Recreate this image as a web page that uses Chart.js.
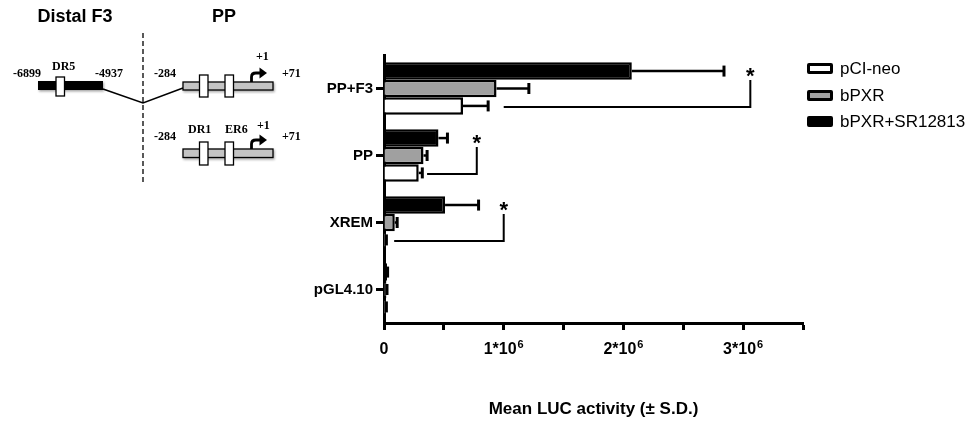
<!DOCTYPE html>
<html>
<head>
<meta charset="utf-8">
<script src="https://cdn.jsdelivr.net/npm/chart.js@4/dist/chart.umd.min.js"></script>
<style>
html,body{margin:0;padding:0;background:#fff;}
#wrap{position:relative;width:979px;height:421px;overflow:hidden;}
#c{position:absolute;left:0;top:0;}
#diagram{position:absolute;left:0;top:0;}
#legend{position:absolute;left:807px;top:0;font-family:"Liberation Sans",Arial,sans-serif;font-size:17px;color:#000;}
.row{position:absolute;left:0;white-space:nowrap;height:20px;line-height:20px;}
.box{position:absolute;left:0;top:4px;width:26px;height:11px;box-sizing:border-box;border:3px solid #000;border-radius:2px;}
.lbl{position:absolute;left:33px;top:0;}
</style>
</head>
<body>
<div id="wrap">
<canvas id="c" width="979" height="421"></canvas>
<svg id="diagram" width="310" height="190" xmlns="http://www.w3.org/2000/svg">
  <defs>
    <filter id="sh" x="-10%" y="-30%" width="130%" height="180%">
      <feDropShadow dx="1" dy="1.5" stdDeviation="1" flood-color="#000" flood-opacity="0.35"/>
    </filter>
  </defs>
  <g font-family="Liberation Sans, Arial, sans-serif" font-weight="bold" font-size="18" fill="#000" text-anchor="middle">
    <text x="75" y="22">Distal F3</text>
    <text x="224" y="22">PP</text>
  </g>
  <line x1="143" y1="33" x2="143" y2="182" stroke="#000" stroke-width="1.3" stroke-dasharray="5,3"/>
  <!-- top construct -->
  <polyline points="103,89 143,103 183,88" fill="none" stroke="#000" stroke-width="1.6"/>
  <rect x="38" y="81" width="65" height="9" fill="#000" filter="url(#sh)"/>
  <rect x="56" y="77" width="8.5" height="19" fill="#fff" stroke="#000" stroke-width="1.3"/>
  <rect x="183" y="82" width="90" height="8" fill="#c4c4c4" stroke="#000" stroke-width="1.3" filter="url(#sh)"/>
  <rect x="199.5" y="75" width="8.5" height="22" fill="#fff" stroke="#000" stroke-width="1.3"/>
  <rect x="225" y="75" width="8.5" height="22" fill="#fff" stroke="#000" stroke-width="1.3"/>
  <path d="M251.5,82 L251.5,77 Q251.5,73 256,73 L261,73" fill="none" stroke="#000" stroke-width="2.8"/>
  <polygon points="259.5,67.5 267,73 259.5,78.5" fill="#000"/>
  <!-- bottom construct -->
  <rect x="183" y="149" width="90" height="8.5" fill="#c4c4c4" stroke="#000" stroke-width="1.3" filter="url(#sh)"/>
  <rect x="199.5" y="142" width="8.5" height="23" fill="#fff" stroke="#000" stroke-width="1.3"/>
  <rect x="225" y="142" width="8.5" height="23" fill="#fff" stroke="#000" stroke-width="1.3"/>
  <path d="M251.5,149 L251.5,144 Q251.5,140 256,140 L261,140" fill="none" stroke="#000" stroke-width="2.8"/>
  <polygon points="259.5,134.5 267,140 259.5,145.5" fill="#000"/>
  <g font-family="Liberation Serif, Times New Roman, serif" font-weight="bold" font-size="12" fill="#000">
    <text x="13" y="77">-6899</text>
    <text x="52" y="70">DR5</text>
    <text x="95" y="77">-4937</text>
    <text x="154" y="77">-284</text>
    <text x="256" y="60">+1</text>
    <text x="282" y="77">+71</text>
    <text x="154" y="140">-284</text>
    <text x="188" y="133">DR1</text>
    <text x="225" y="133">ER6</text>
    <text x="257" y="129">+1</text>
    <text x="282" y="140">+71</text>
  </g>
</svg>
<div id="legend"></div>
</div>
<script>
// ---- data ----
const categories = ['PP+F3', 'PP', 'XREM', 'pGL4.10'];
const seriesNames = ['pCI-neo', 'bPXR', 'bPXR+SR12813'];
const pCIneo     = [660000, 290000, 15000, 15000];
const pCIneoSD   = [210000, 30000, 5000, 5000];
const bPXR       = [940000, 330000, 90000, 20000];
const bPXRSD     = [270000, 30000, 20000, 5000];
const bPXRSR     = [2070000, 455000, 510000, 25000];
const bPXRSRSD   = [770000, 75000, 280000, 5000];
const xTickValues = [0, 1000000, 2000000, 3000000];
const xTickLabels = ['0', '1*10', '2*10', '3*10'];
const xTickExps   = ['', '6', '6', '6'];
const sigCategory = ['PP+F3', 'PP', 'XREM'];
const sigFrom     = [1000000, 360000, 85000];
const sigTo       = [3060000, 775000, 1000000];
const xAxisTitle = 'Mean LUC activity (\u00b1 S.D.)';

const FONT = '"Liberation Sans", Arial, sans-serif';
const colors = {'pCI-neo': '#ffffff', 'bPXR': '#a0a0a0', 'bPXR+SR12813': '#000000'};
const valuesBy = {'pCI-neo': pCIneo, 'bPXR': bPXR, 'bPXR+SR12813': bPXRSR};
const sdBy = {'pCI-neo': pCIneoSD, 'bPXR': bPXRSD, 'bPXR+SR12813': bPXRSRSD};

// bars stacked top-to-bottom: SR12813, bPXR, pCI-neo
const drawOrder = seriesNames.slice().reverse();
const datasets = drawOrder.map(n => ({
  label: n,
  data: valuesBy[n],
  backgroundColor: colors[n],
  borderColor: '#000',
  borderWidth: 2.5,
  borderSkipped: 'start'
}));

// legend (HTML, in original order)
const legendEl = document.getElementById('legend');
const legendY = [59, 86, 112];
seriesNames.forEach((n, i) => {
  const r = document.createElement('div');
  r.className = 'row';
  r.style.top = legendY[i] + 'px';
  const b = document.createElement('span');
  b.className = 'box';
  b.style.background = colors[n];
  const t = document.createElement('span');
  t.className = 'lbl';
  t.textContent = n;
  r.appendChild(b); r.appendChild(t);
  legendEl.appendChild(r);
});

const errorBars = {
  id: 'errorBars',
  afterDatasetsDraw(chart) {
    const ctx = chart.ctx, xs = chart.scales.x;
    ctx.save();
    ctx.strokeStyle = '#000';
    chart.data.datasets.forEach((ds, i) => {
      const meta = chart.getDatasetMeta(i);
      const sd = sdBy[ds.label];
      meta.data.forEach((bar, j) => {
        const v = ds.data[j];
        const x0 = xs.getPixelForValue(v);
        const x1 = xs.getPixelForValue(v + sd[j]);
        const y = bar.y;
        ctx.lineWidth = 2.5;
        ctx.beginPath();
        ctx.moveTo(x0, y); ctx.lineTo(x1, y);
        ctx.stroke();
        ctx.lineWidth = 3;
        ctx.beginPath();
        ctx.moveTo(x1, y - 5.5); ctx.lineTo(x1, y + 5.5);
        ctx.stroke();
      });
    });
    ctx.restore();
  }
};

const sigMarks = {
  id: 'sigMarks',
  afterDatasetsDraw(chart) {
    const ctx = chart.ctx, xs = chart.scales.x;
    const topMeta = chart.getDatasetMeta(0);
    const botMeta = chart.getDatasetMeta(2);
    ctx.save();
    ctx.strokeStyle = '#000';
    ctx.fillStyle = '#000';
    ctx.lineWidth = 2;
    sigCategory.forEach((cat, k) => {
      const c = categories.indexOf(cat);
      const yw = botMeta.data[c].y + 1;
      const yb = topMeta.data[c].y;
      const xa = xs.getPixelForValue(sigFrom[k]);
      const xb = xs.getPixelForValue(sigTo[k]);
      ctx.beginPath();
      ctx.moveTo(xa, yw); ctx.lineTo(xb, yw); ctx.lineTo(xb, yb + 9);
      ctx.stroke();
      ctx.font = 'bold 22px ' + FONT;
      ctx.textAlign = 'center';
      ctx.textBaseline = 'alphabetic';
      ctx.fillText('*', xb, yb + 12);
    });
    ctx.restore();
  }
};

// x tick labels with superscript exponent, placed through the x scale
const xLabels = {
  id: 'xLabels',
  afterDraw(chart) {
    const ctx = chart.ctx, xs = chart.scales.x;
    const baseFont = 'bold 16px ' + FONT;
    const supFont = 'bold 11px ' + FONT;
    const yBase = xs.top + 31;
    ctx.save();
    ctx.fillStyle = '#000';
    ctx.textBaseline = 'alphabetic';
    ctx.textAlign = 'left';
    xTickValues.forEach((v, i) => {
      const px = xs.getPixelForValue(v);
      ctx.font = baseFont;
      const wb = ctx.measureText(xTickLabels[i]).width;
      ctx.font = supFont;
      const ws = xTickExps[i] ? ctx.measureText(xTickExps[i]).width + 1 : 0;
      const x0 = px - (wb + ws) / 2;
      ctx.font = baseFont;
      ctx.fillText(xTickLabels[i], x0, yBase);
      if (xTickExps[i]) {
        ctx.font = supFont;
        ctx.fillText(xTickExps[i], x0 + wb + 1, yBase - 6);
      }
    });
    ctx.restore();
  }
};

new Chart(document.getElementById('c'), {
  type: 'bar',
  data: { labels: categories, datasets },
  options: {
    indexAxis: 'y',
    responsive: false,
    animation: false,
    devicePixelRatio: 1,
    layout: { padding: { left: 300, right: 176, top: 55, bottom: 0 } },
    datasets: { bar: { categoryPercentage: 0.78, barPercentage: 1 } },
    plugins: { legend: { display: false }, tooltip: { enabled: false } },
    scales: {
      x: {
        min: 0, max: 3500000,
        ticks: {
          stepSize: 500000,
          autoSkip: false, maxRotation: 0,
          color: '#000',
          padding: 9,
          font: { family: FONT, size: 16, weight: 'bold' },
          callback: () => ''
        },
        grid: { drawOnChartArea: false, tickLength: 7, tickWidth: 3, tickColor: '#000' },
        border: { color: '#000', width: 3 },
        title: { display: true, text: xAxisTitle, color: '#000', font: { family: FONT, size: 17, weight: 'bold' }, padding: { top: 0, bottom: 1 } },
        afterFit(s) { s.height = 98; }
      },
      y: {
        ticks: { color: '#000', padding: 3, font: { family: FONT, size: 15, weight: 'bold' } },
        grid: { offset: false, drawOnChartArea: false, tickLength: 8, tickWidth: 3, tickColor: '#000' },
        border: { color: '#000', width: 3 },
        afterFit(s) { s.width = 84; }
      }
    }
  },
  plugins: [errorBars, sigMarks, xLabels]
});
</script>
</body>
</html>
